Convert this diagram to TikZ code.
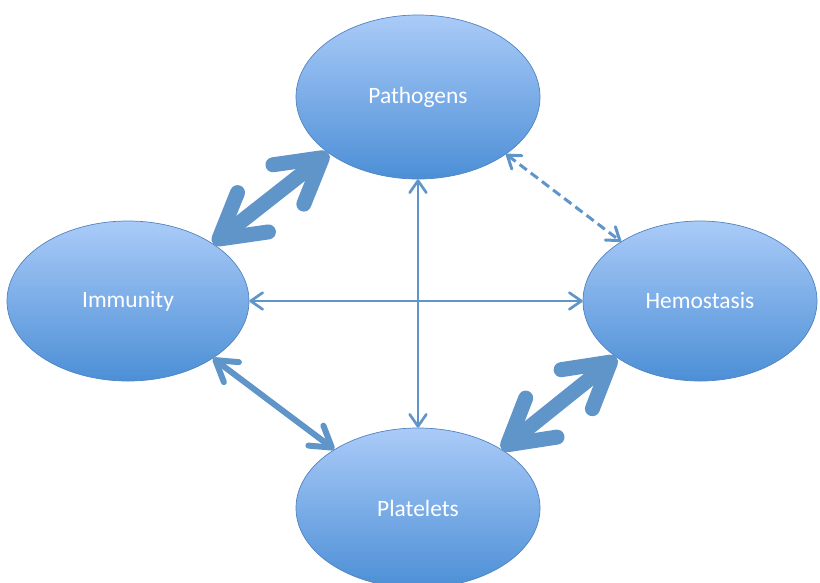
\documentclass[tikz,border=0pt]{standalone}
\usepackage{fontspec}
\setmainfont{Carlito}
\usetikzlibrary{arrows.meta,shapes.geometric}
\definecolor{fillTop}{RGB}{170,203,248}
\definecolor{fillBot}{RGB}{76,143,214}
\definecolor{rim}{RGB}{82,132,192}
\definecolor{link}{RGB}{96,149,202}
\tikzset{
  blob/.style = {ellipse, draw=rim, line width=0.6pt, inner sep=0pt,
    top color=fillTop, bottom color=fillBot, text=white,
    font=\fontsize{20}{24}\selectfont},
  fatlink/.style = {link, line width=0.45cm,
    {Straight Barb[length=1.3cm, width=1.5cm, round]}-{Straight Barb[length=1.3cm, width=1.5cm, round]}},
  midlink/.style = {link, line width=0.18cm,
    {Straight Barb[length=0.6cm, width=0.75cm, round]}-{Straight Barb[length=0.6cm, width=0.75cm, round]}},
  thinlink/.style = {link, line width=0.08cm,
    {Straight Barb[length=0.36cm, width=0.5cm, round]}-{Straight Barb[length=0.36cm, width=0.5cm, round]}},
  dashlink/.style = {thinlink, line width=0.09cm, dash pattern=on 0.27cm off 0.15cm}
}

\begin{document}
\begin{tikzpicture}[x=0.03cm, y=-0.03cm]
    \useasboundingbox (0,0) rectangle (820,582);
    \node [blob, minimum width=7.32cm, minimum height=4.92cm] (path) at (418,97) {Pathogens};
    \node [blob, minimum width=7.26cm, minimum height=4.8cm] (imm) at (128,301) {Immunity};
    \node [blob, minimum width=7.02cm, minimum height=4.8cm] (hemo) at (700,301) {Hemostasis};
    \node [blob, minimum width=7.32cm, minimum height=4.8cm] (plat) at (418,508) {Platelets};

    \draw [fatlink] (imm.34) -- (path.212);
    \draw [fatlink] (hemo.214) -- (plat.35);
    \draw [midlink] (imm.-34) -- (plat.145);
    \draw [dashlink] (path.-33) -- (hemo.143);
    \draw [thinlink] (imm.east) -- (hemo.west);
    \draw [thinlink] (path.south) -- (plat.north);
\end{tikzpicture}
\end{document}
